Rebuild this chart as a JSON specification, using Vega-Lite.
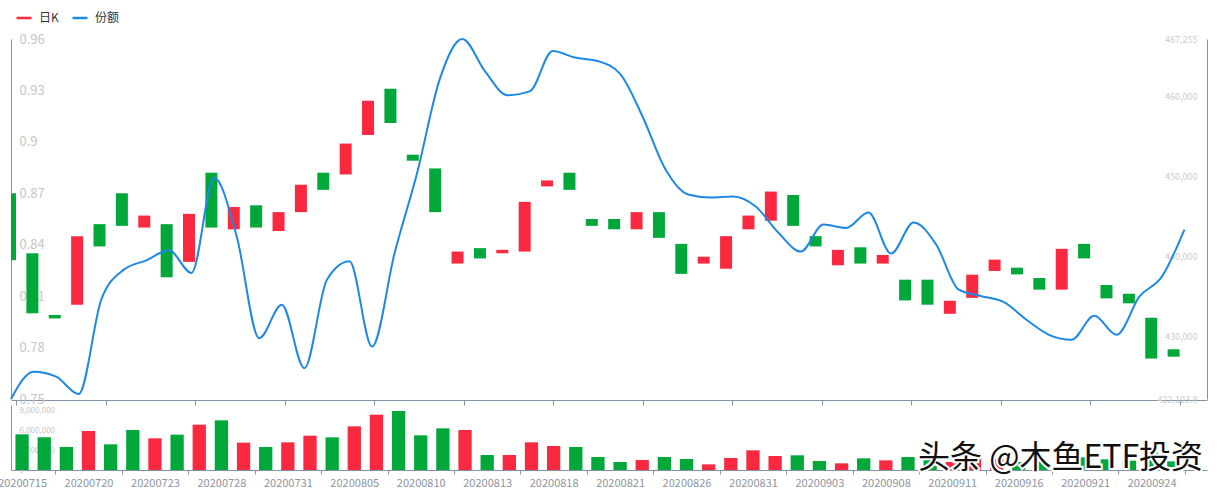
{
  "$schema": "https://vega.github.io/schema/vega-lite/v6.json",
  "width": 1196,
  "height": 431,
  "autosize": "none",
  "padding": {"left": 11, "top": 39, "right": 12, "bottom": 24},
  "background": "white",
  "config": {
    "view": {"stroke": null},
    "font": "Noto Sans CJK SC",
    "axis": {"grid": false, "domainColor": "#8392A5", "tickColor": "#8392A5", "labelFont": "Noto Sans CJK SC", "title": null}
  },
  "data": {
    "values": [
      {"date": "20200715", "i": 0, "open": 0.870, "close": 0.831, "share": 422103.8, "vol": 5350000, "dir": "down"},
      {"date": "20200716", "i": 1, "open": 0.835, "close": 0.800, "share": 425537, "vol": 4900000, "dir": "down"},
      {"date": "20200717", "i": 2, "open": 0.799, "close": 0.797, "share": 424909, "vol": 3450000, "dir": "down"},
      {"date": "20200720", "i": 3, "open": 0.805, "close": 0.845, "share": 422733, "vol": 5850000, "dir": "up"},
      {"date": "20200721", "i": 4, "open": 0.852, "close": 0.839, "share": 434555, "vol": 3850000, "dir": "down"},
      {"date": "20200722", "i": 5, "open": 0.870, "close": 0.851, "share": 438328, "vol": 6000000, "dir": "down"},
      {"date": "20200723", "i": 6, "open": 0.850, "close": 0.857, "share": 439498, "vol": 4750000, "dir": "up"},
      {"date": "20200724", "i": 7, "open": 0.852, "close": 0.821, "share": 440756, "vol": 5300000, "dir": "down"},
      {"date": "20200727", "i": 8, "open": 0.830, "close": 0.858, "share": 437913, "vol": 6800000, "dir": "up"},
      {"date": "20200728", "i": 9, "open": 0.882, "close": 0.850, "share": 449860, "vol": 7450000, "dir": "down"},
      {"date": "20200729", "i": 10, "open": 0.849, "close": 0.862, "share": 442517, "vol": 4100000, "dir": "up"},
      {"date": "20200730", "i": 11, "open": 0.863, "close": 0.850, "share": 429738, "vol": 3450000, "dir": "down"},
      {"date": "20200731", "i": 12, "open": 0.848, "close": 0.859, "share": 433926, "vol": 4150000, "dir": "up"},
      {"date": "20200803", "i": 13, "open": 0.859, "close": 0.875, "share": 425965, "vol": 5150000, "dir": "up"},
      {"date": "20200804", "i": 14, "open": 0.882, "close": 0.872, "share": 437070, "vol": 4900000, "dir": "down"},
      {"date": "20200805", "i": 15, "open": 0.881, "close": 0.899, "share": 439372, "vol": 6550000, "dir": "up"},
      {"date": "20200806", "i": 16, "open": 0.904, "close": 0.924, "share": 428682, "vol": 8300000, "dir": "up"},
      {"date": "20200807", "i": 17, "open": 0.931, "close": 0.911, "share": 440430, "vol": 8850000, "dir": "down"},
      {"date": "20200810", "i": 18, "open": 0.8925, "close": 0.889, "share": 450488, "vol": 5200000, "dir": "down"},
      {"date": "20200811", "i": 19, "open": 0.8845, "close": 0.859, "share": 462225, "vol": 6250000, "dir": "down"},
      {"date": "20200812", "i": 20, "open": 0.829, "close": 0.836, "share": 467255, "vol": 6000000, "dir": "up"},
      {"date": "20200813", "i": 21, "open": 0.838, "close": 0.832, "share": 463230, "vol": 2250000, "dir": "down"},
      {"date": "20200814", "i": 22, "open": 0.835, "close": 0.837, "share": 460200, "vol": 2250000, "dir": "up"},
      {"date": "20200817", "i": 23, "open": 0.836, "close": 0.865, "share": 460715, "vol": 4150000, "dir": "up"},
      {"date": "20200818", "i": 24, "open": 0.874, "close": 0.8775, "share": 465746, "vol": 3600000, "dir": "up"},
      {"date": "20200819", "i": 25, "open": 0.882, "close": 0.872, "share": 464929, "vol": 3450000, "dir": "down"},
      {"date": "20200820", "i": 26, "open": 0.855, "close": 0.851, "share": 464488, "vol": 1950000, "dir": "down"},
      {"date": "20200821", "i": 27, "open": 0.855, "close": 0.849, "share": 462854, "vol": 1200000, "dir": "down"},
      {"date": "20200824", "i": 28, "open": 0.849, "close": 0.859, "share": 457445, "vol": 1500000, "dir": "up"},
      {"date": "20200825", "i": 29, "open": 0.859, "close": 0.844, "share": 450906, "vol": 1950000, "dir": "down"},
      {"date": "20200826", "i": 30, "open": 0.8405, "close": 0.823, "share": 447762, "vol": 1650000, "dir": "down"},
      {"date": "20200827", "i": 31, "open": 0.829, "close": 0.833, "share": 447385, "vol": 850000, "dir": "up"},
      {"date": "20200828", "i": 32, "open": 0.826, "close": 0.845, "share": 447510, "vol": 1800000, "dir": "up"},
      {"date": "20200831", "i": 33, "open": 0.849, "close": 0.857, "share": 446253, "vol": 2950000, "dir": "up"},
      {"date": "20200901", "i": 34, "open": 0.854, "close": 0.871, "share": 442983, "vol": 2100000, "dir": "up"},
      {"date": "20200902", "i": 35, "open": 0.869, "close": 0.851, "share": 440593, "vol": 2200000, "dir": "down"},
      {"date": "20200903", "i": 36, "open": 0.845, "close": 0.839, "share": 443989, "vol": 1350000, "dir": "down"},
      {"date": "20200904", "i": 37, "open": 0.828, "close": 0.837, "share": 443549, "vol": 1000000, "dir": "up"},
      {"date": "20200907", "i": 38, "open": 0.8385, "close": 0.829, "share": 445498, "vol": 1750000, "dir": "down"},
      {"date": "20200908", "i": 39, "open": 0.829, "close": 0.834, "share": 440341, "vol": 1450000, "dir": "up"},
      {"date": "20200909", "i": 40, "open": 0.8196, "close": 0.8075, "share": 444240, "vol": 1950000, "dir": "down"},
      {"date": "20200910", "i": 41, "open": 0.8196, "close": 0.805, "share": 441472, "vol": 1900000, "dir": "down"},
      {"date": "20200911", "i": 42, "open": 0.7997, "close": 0.8073, "share": 435813, "vol": 1200000, "dir": "up"},
      {"date": "20200914", "i": 43, "open": 0.809, "close": 0.8225, "share": 435000, "vol": 2300000, "dir": "up"},
      {"date": "20200915", "i": 44, "open": 0.8247, "close": 0.8313, "share": 434240, "vol": 1700000, "dir": "up"},
      {"date": "20200916", "i": 45, "open": 0.8266, "close": 0.8227, "share": 432040, "vol": 1200000, "dir": "down"},
      {"date": "20200917", "i": 46, "open": 0.8206, "close": 0.8138, "share": 430153, "vol": 1300000, "dir": "down"},
      {"date": "20200918", "i": 47, "open": 0.8138, "close": 0.8376, "share": 429524, "vol": 2200000, "dir": "up"},
      {"date": "20200921", "i": 48, "open": 0.8405, "close": 0.832, "share": 432543, "vol": 1900000, "dir": "down"},
      {"date": "20200922", "i": 49, "open": 0.8165, "close": 0.8087, "share": 430153, "vol": 1600000, "dir": "down"},
      {"date": "20200923", "i": 50, "open": 0.8114, "close": 0.8058, "share": 434932, "vol": 1400000, "dir": "down"},
      {"date": "20200924", "i": 51, "open": 0.7974, "close": 0.7736, "share": 437448, "vol": 2600000, "dir": "down"},
      {"date": "20200925", "i": 52, "open": 0.779, "close": 0.7747, "share": 443359, "vol": 1300000, "dir": "down"}
    ]
  },
  "resolve": {
    "scale": {"x": "independent", "y": "independent", "color": "independent"},
    "axis": {"x": "independent", "y": "independent"},
    "legend": {"color": "independent"}
  },
  "layer": [
    {
      "mark": {"type": "bar", "width": 12, "xOffset": -6, "clip": true},
      "encoding": {
        "x": {
          "field": "i", "type": "quantitative",
          "scale": {"domain": [0, 53], "nice": false, "zero": false},
          "axis": {"orient": "bottom", "offset": -70, "values": [0, 4, 8, 12, 16, 20, 24, 28, 32, 36, 40, 44, 48, 52], "labels": false, "ticks": true, "tickSize": 5, "domain": true}
        },
        "y": {
          "field": "open", "type": "quantitative",
          "scale": {"domain": [0.75, 0.96], "range": [360, 0], "nice": false, "zero": false},
          "axis": {"orient": "left", "values": [0.75, 0.78, 0.81, 0.84, 0.87, 0.9, 0.93, 0.96], "labelExpr": "format(datum.value, '~g')", "ticks": false, "tickSize": 0, "labelPadding": -8, "labelAlign": "left", "labelColor": "#c6c6c6", "labelFontSize": 13}
        },
        "y2": {"field": "close"},
        "color": {"field": "dir", "type": "nominal", "scale": {"domain": ["up", "down"], "range": ["#fa2940", "#00a83a"]}, "legend": null}
      }
    },
    {
      "mark": {"type": "line", "interpolate": "monotone", "strokeWidth": 2},
      "encoding": {
        "x": {"field": "i", "type": "quantitative", "scale": {"domain": [0, 53], "nice": false, "zero": false}, "axis": null},
        "y": {
          "field": "share", "type": "quantitative",
          "scale": {"domain": [422103.8, 467255], "range": [360, 0], "nice": false, "zero": false},
          "axis": {"orient": "right", "values": [422103.8, 430000, 440000, 450000, 460000, 467255], "labelExpr": "format(datum.value, ',')", "ticks": false, "tickSize": 0, "labelPadding": -10, "labelAlign": "right", "labelColor": "#cccccc", "labelFontSize": 9}
        },
        "color": {
          "datum": "份额", "type": "nominal",
          "scale": {"domain": ["日K", "份额"], "range": ["#fa2940", "#1e88e5"]},
          "legend": {"orient": "none", "legendX": 4, "legendY": -30, "direction": "horizontal", "title": null, "symbolType": "stroke", "symbolSize": 225, "symbolStrokeWidth": 2.5, "labelFontSize": 12, "labelColor": "#333333", "labelFont": "Noto Sans CJK SC", "columnPadding": 8, "padding": 0, "labelOffset": 6}
        }
      }
    },
    {
      "layer": [
        {
          "mark": {"type": "bar"},
          "encoding": {
            "x": {
              "field": "date", "type": "ordinal",
              "scale": {"domain": ["20200715","20200716","20200717","20200720","20200721","20200722","20200723","20200724","20200727","20200728","20200729","20200730","20200731","20200803","20200804","20200805","20200806","20200807","20200810","20200811","20200812","20200813","20200814","20200817","20200818","20200819","20200820","20200821","20200824","20200825","20200826","20200827","20200828","20200831","20200901","20200902","20200903","20200904","20200907","20200908","20200909","20200910","20200911","20200914","20200915","20200916","20200917","20200918","20200921","20200922","20200923","20200924","20200925","20200928"], "paddingInner": 0.4, "paddingOuter": 0.2},
              "axis": {"orient": "bottom", "values": ["20200715","20200720","20200723","20200728","20200731","20200805","20200810","20200813","20200818","20200821","20200826","20200831","20200903","20200908","20200911","20200916","20200921","20200924"], "tickOffset": 33.22, "labelOffset": -33.22, "tickSize": 4, "labelPadding": 3, "labelFontSize": 11, "labelColor": "#8d94a0", "labelOverlap": false, "labelBound": false, "labelFlush": false, "labelAngle": 0}
            },
            "y": {
              "field": "vol", "type": "quantitative",
              "scale": {"domain": [0, 9750000], "range": [431, 366], "nice": false},
              "axis": {"orient": "left", "values": [0, 3000000, 6000000, 9000000], "labelExpr": "format(datum.value, ',')", "ticks": false, "tickSize": 0, "labelPadding": -8, "labelAlign": "left", "labelColor": "#c6c6c6", "labelFontSize": 8}
            },
            "color": {"field": "dir", "type": "nominal", "scale": {"domain": ["up", "down"], "range": ["#fa2940", "#00a83a"]}, "legend": null}
          }
        },
        {
          "data": {"values": [{}]},
          "mark": {"type": "text", "text": "头条 @木鱼ETF投资", "font": "Noto Sans CJK SC", "fontSize": 32, "align": "left", "baseline": "middle", "dx": 10, "fill": "white", "stroke": "white", "strokeWidth": 4},
          "encoding": {"x": {"datum": "20200909", "type": "ordinal"}, "y": {"datum": 1800000, "type": "quantitative"}}
        },
        {
          "data": {"values": [{}]},
          "mark": {"type": "text", "text": "头条 @木鱼ETF投资", "font": "Noto Sans CJK SC", "fontSize": 32, "align": "left", "baseline": "middle", "dx": 10, "fill": "#111111"},
          "encoding": {"x": {"datum": "20200909", "type": "ordinal"}, "y": {"datum": 1800000, "type": "quantitative"}}
        }
      ]
    }
  ]
}
